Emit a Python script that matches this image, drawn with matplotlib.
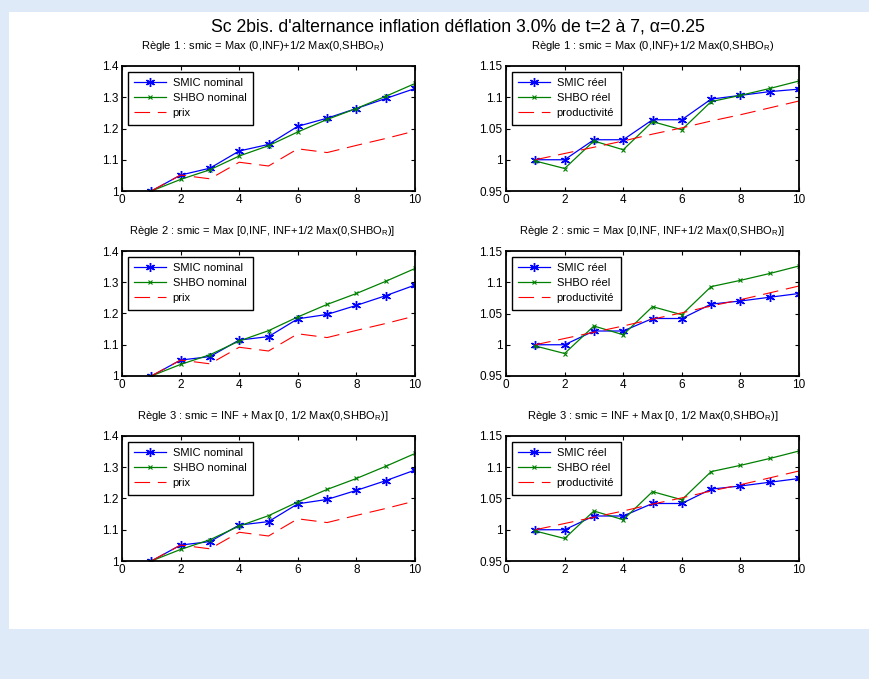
import numpy as np
import matplotlib
matplotlib.use('Agg')
import matplotlib.pyplot as plt
from matplotlib.patches import Rectangle

plt.rcParams['font.family'] = ['Liberation Sans', 'DejaVu Sans']
plt.rcParams['mathtext.fontset'] = 'custom'
plt.rcParams['mathtext.rm'] = 'Liberation Sans'
plt.rcParams['mathtext.it'] = 'Liberation Sans:italic'

t = [1, 2, 3, 4, 5, 6, 7, 8, 9, 10]

prix = [1.000, 1.051, 1.039, 1.092, 1.080, 1.135, 1.123, 1.146, 1.168, 1.192]
productivite = [1.000, 1.010, 1.020, 1.030, 1.041, 1.051, 1.062, 1.072, 1.083, 1.094]

shbo_nom = [1.000, 1.037, 1.068, 1.112, 1.145, 1.189, 1.229, 1.264, 1.303, 1.344]
shbo_reel = [0.998, 0.986, 1.030, 1.016, 1.061, 1.048, 1.093, 1.103, 1.114, 1.126]

smic_nom_r1 = [1.000, 1.051, 1.073, 1.128, 1.149, 1.207, 1.233, 1.264, 1.296, 1.328]
smic_reel_r1 = [1.000, 1.000, 1.032, 1.032, 1.064, 1.064, 1.097, 1.103, 1.109, 1.113]

smic_nom_r2 = [1.000, 1.051, 1.062, 1.115, 1.126, 1.183, 1.197, 1.226, 1.257, 1.291]
smic_reel_r2 = [1.000, 1.000, 1.022, 1.022, 1.042, 1.042, 1.065, 1.070, 1.076, 1.082]

smic_nom_r3 = smic_nom_r2
smic_reel_r3 = smic_reel_r2

titres = [r'Règle 1 : smic = Max (0,INF)+1/2 Max(0,SHBO$_\mathrm{R}$)',
          r'Règle 2 : smic = Max [0,INF, INF+1/2 Max(0,SHBO$_\mathrm{R}$)]',
          r'Règle 3 : smic = INF + Max [0, 1/2 Max(0,SHBO$_\mathrm{R}$)]']

smic_nom = [smic_nom_r1, smic_nom_r2, smic_nom_r3]
smic_reel = [smic_reel_r1, smic_reel_r2, smic_reel_r3]

blue = '#0000FF'
green = '#008000'
red = '#FF0000'
aster = (6, 2, 0)

fig = plt.figure(figsize=(8.69, 6.79), dpi=100)
fig.patch.set_facecolor('#DFEAF8')
fig.patches.append(Rectangle((9/869, 1-629/679), 1, (629-12)/679,
                             transform=fig.transFigure, facecolor='white',
                             edgecolor='none', zorder=-10))

fig.text(0.527, 1-27/679, "Sc 2bis. d'alternance inflation déflation 3.0% de t=2 à 7, α=0.25",
         ha='center', va='center', fontsize=12.7)

tops = [66, 251, 436]
h = 125/679

def style(ax):
    ax.tick_params(direction='in', length=3, labelsize=8.5, top=True, right=True, pad=2.5)
    for s in ax.spines.values():
        s.set_linewidth(1.3)
    ax.set_xlim(0, 10)
    ax.set_xticks([0, 2, 4, 6, 8, 10])

for i in range(3):
    bottom = 1 - (tops[i] + 125)/679
    ax1 = fig.add_axes([122/869, bottom, 293/869, h])
    ax2 = fig.add_axes([506/869, bottom, 293/869, h])

    ax1.plot(t, smic_nom[i], color=blue, lw=0.9, marker=aster, ms=6.5, mew=1.0, label='SMIC nominal')
    ax1.plot(t, shbo_nom, color=green, lw=0.9, marker='x', ms=3.5, mew=0.8, label='SHBO nominal')
    l, = ax1.plot(t, prix, color=red, lw=0.8, label='prix')
    l.set_dashes((14, 7))
    style(ax1)
    ax1.set_ylim(1, 1.4)
    ax1.set_yticks([1, 1.1, 1.2, 1.3, 1.4])
    ax1.set_yticklabels(['1', '1.1', '1.2', '1.3', '1.4'])
    ax1.set_title(titres[i], fontsize=8, pad=12, x=0.48)

    ax2.plot(t, smic_reel[i], color=blue, lw=0.9, marker=aster, ms=6.5, mew=1.0, label='SMIC réel')
    ax2.plot(t, shbo_reel, color=green, lw=0.9, marker='x', ms=3.5, mew=0.8, label='SHBO réel')
    l, = ax2.plot(t, productivite, color=red, lw=0.8, label='productivité')
    l.set_dashes((14, 7))
    style(ax2)
    ax2.set_ylim(0.95, 1.15)
    ax2.set_yticks([0.95, 1, 1.05, 1.1, 1.15])
    ax2.set_yticklabels(['0.95', '1', '1.05', '1.1', '1.15'])
    ax2.set_title(titres[i], fontsize=8, pad=12)

    for ax in (ax1, ax2):
        leg = ax.legend(loc='upper left', fontsize=8, fancybox=False, framealpha=1,
                        edgecolor='black', handlelength=2.9, handletextpad=0.55,
                        borderaxespad=0.5, labelspacing=0.45, borderpad=0.6)
        leg.get_frame().set_linewidth(1.0)

fig.savefig('out.png', dpi=100, facecolor=fig.get_facecolor())
